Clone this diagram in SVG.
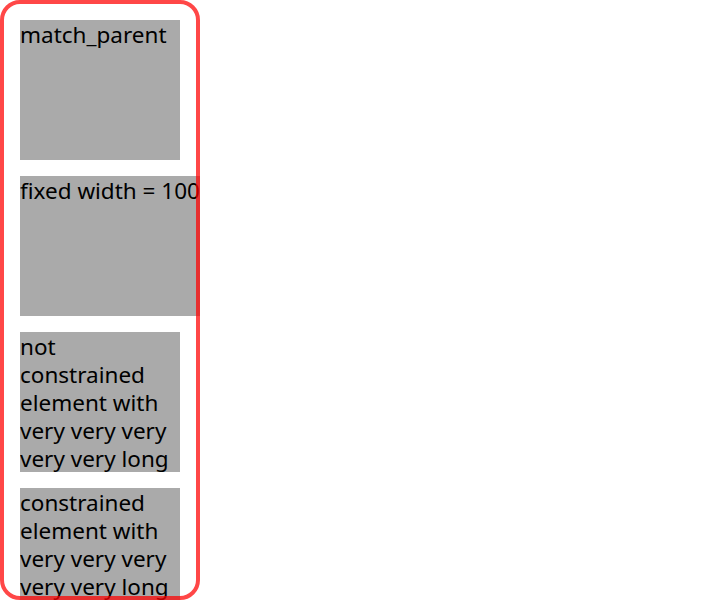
<svg xmlns="http://www.w3.org/2000/svg" width="720" height="600" viewBox="0 0 720 600">
<style>
.box{fill:#aaaaaa}
.t{font-family:"Noto Sans","Open Sans","DejaVu Sans",sans-serif;font-size:22.5px;fill:#000}
</style>
<defs>
<clipPath id="c1"><rect x="20" y="20" width="160" height="140"/></clipPath>
<clipPath id="c2"><rect x="20" y="176" width="180" height="140"/></clipPath>
<clipPath id="c3"><rect x="20" y="332" width="160" height="140"/></clipPath>
<clipPath id="c4"><rect x="20" y="488" width="160" height="140"/></clipPath>
</defs>
<rect width="720" height="600" fill="#fff"/>
<g id="n1" clip-path="url(#c1)">
<rect class="box" x="20" y="20" width="160" height="140"/>
<text class="t" x="20" y="43">match_parent</text>
</g>
<g id="n2" clip-path="url(#c2)">
<rect class="box" x="20" y="176" width="180" height="140"/>
<text class="t" x="20" y="199">fixed width = 100</text>
</g>
<g id="n3" clip-path="url(#c3)">
<rect class="box" x="20" y="332" width="160" height="140"/>
<text class="t" x="20" y="355">not</text>
<text class="t" x="20" y="383">constrained</text>
<text class="t" x="20" y="411">element with</text>
<text class="t" x="20" y="439">very very very</text>
<text class="t" x="20" y="467">very very long</text>
</g>
<g id="n4" clip-path="url(#c4)">
<rect class="box" x="20" y="488" width="160" height="140"/>
<text class="t" x="20" y="511">constrained</text>
<text class="t" x="20" y="539">element with</text>
<text class="t" x="20" y="567">very very very</text>
<text class="t" x="20" y="595">very very long</text>
</g>
<g id="container">
<rect x="2" y="2" width="196" height="596" rx="18" ry="18" fill="none" stroke="#ff0000" stroke-opacity="0.72" stroke-width="4"/>
</g>
</svg>
